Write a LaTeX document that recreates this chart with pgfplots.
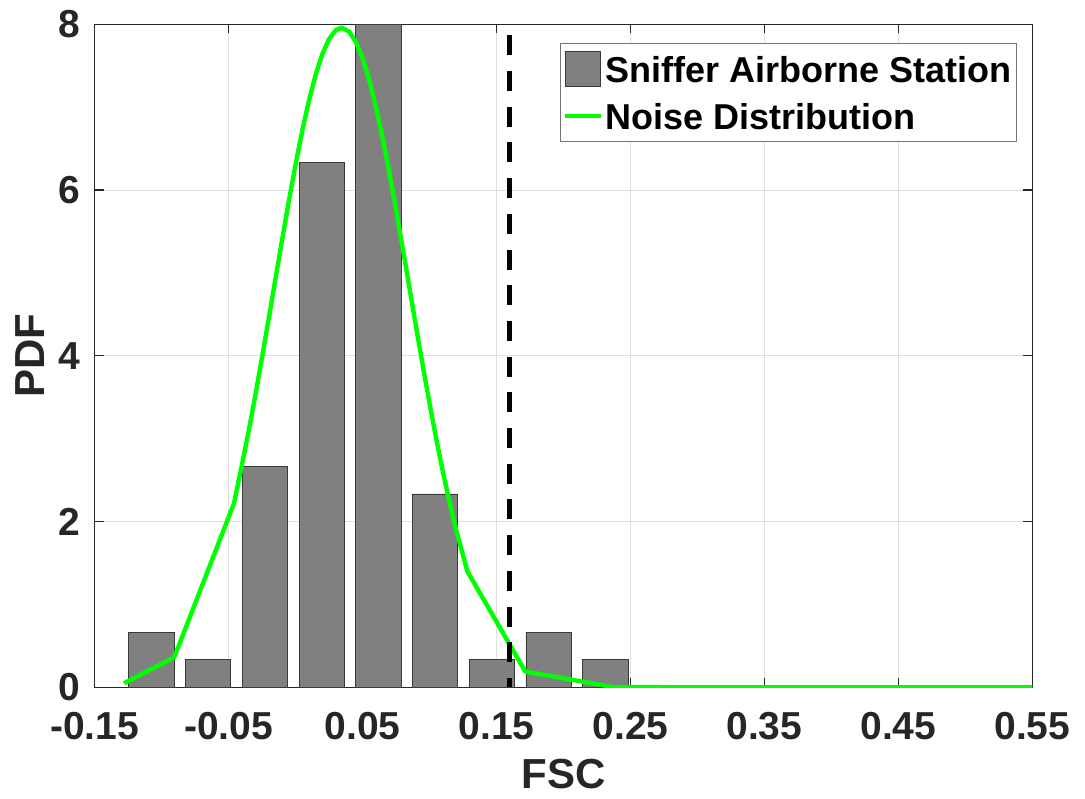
\documentclass[border=0pt]{standalone}
\usepackage{fontspec}
\setmainfont{Liberation Sans}
\usepackage{pgfplots}
\pgfplotsset{compat=1.18}
\definecolor{axgray}{HTML}{262626}
\definecolor{gridgray}{HTML}{DFDFDF}
\definecolor{bargray}{HTML}{808080}
\definecolor{edgegray}{HTML}{3A3A3A}
\definecolor{noisegreen}{HTML}{00FF00}
\begin{document}
\begin{tikzpicture}
\useasboundingbox (-47.35pt,-55.35pt) rectangle (495.15pt,343.65pt);
\begin{axis}[
  at={(0,0)}, anchor=south west,
  scale only axis, width=468.8pt, height=331.5pt,
  xmin=-0.15, xmax=0.55, ymin=0, ymax=8,
  xtick={-0.15,-0.05,0.05,0.15,0.25,0.35,0.45,0.55},
  xticklabels={-0.15,-0.05,0.05,0.15,0.25,0.35,0.45,0.55},
  ytick={0,2,4,6,8}, yticklabels={0,2,4,6,8},
  grid=major, major grid style={gridgray, line width=0.5pt},
  axis line style={axgray, line width=0.6pt},
  tick style={axgray, line width=0.6pt},
  tick align=inside, major tick length=4.5pt,
  xtick pos=both, ytick pos=both,
  ticklabel style={font=\fontsize{19.5}{23}\selectfont\bfseries, text=axgray, inner sep=0pt},
  xticklabel style={yshift=-12.2pt},
  yticklabel style={xshift=-6.85pt},
  xlabel={FSC}, ylabel={PDF},
  label style={font=\fontsize{21}{25}\selectfont\bfseries, text=axgray, inner sep=0pt},
  xlabel style={at={(axis description cs:0.5,-0.1085)}, anchor=north},
  ylabel style={at={(axis description cs:-0.053,0.5)}, anchor=south},
  legend cell align=left,
  legend style={at={(axis description cs:1,1)}, anchor=north east,
    xshift=-7.8pt, yshift=-9.2pt, draw=black!55, line width=0.5pt,
    font=\fontsize{18}{21}\selectfont\bfseries,
    inner xsep=1.5pt, inner ysep=4pt, row sep=6pt,
    nodes={inner xsep=1pt, inner ysep=2pt, text depth=0pt}},
]
\addplot[ybar, bar width=0.0339, fill=bargray, draw=edgegray, line width=0.4pt,
  legend image code/.code={\draw[fill=bargray, draw=edgegray, line width=0.4pt] (0pt,-8.75pt) rectangle (17.5pt,8.75pt);}]
  coordinates {(-0.1076,0.667) (-0.0653,0.333) (-0.0229,2.667) (0.0195,6.333)
    (0.0618,8.0) (0.1041,2.333) (0.1465,0.333) (0.1889,0.667) (0.2312,0.333)};
\addlegendentry{Sniffer Airborne Station}
\addplot[noisegreen, line width=2.2pt, line join=round,
  legend image code/.code={\draw[noisegreen, line width=2pt] (0pt,0pt) -- (18pt,0pt);}]
  coordinates {(-0.1281,0.048) (-0.0906,0.362) (-0.0460,2.22)
    (-0.040,2.689) (-0.035,3.096) (-0.030,3.530) (-0.025,3.986) (-0.020,4.456)
    (-0.015,4.933) (-0.010,5.408) (-0.005,5.871) (0.000,6.312) (0.005,6.719)
    (0.010,7.083) (0.015,7.394) (0.020,7.642) (0.025,7.823) (0.030,7.930)
    (0.0344,7.96) (0.040,7.911) (0.045,7.787) (0.050,7.589) (0.055,7.325)
    (0.060,7.000) (0.065,6.625) (0.070,6.209) (0.075,5.761) (0.080,5.295)
    (0.085,4.818) (0.090,4.342) (0.095,3.875) (0.100,3.424) (0.105,2.996)
    (0.110,2.596) (0.115,2.227) (0.120,1.892) (0.125,1.592) (0.1282,1.40)
    (0.1715,0.190) (0.2370,0.003) (0.30,0.0) (0.55,0.0)};
\addlegendentry{Noise Distribution}
\addplot[black, line width=2.3pt, dash pattern=on 10pt off 7.85pt, dash phase=12.35pt, forget plot]
  coordinates {(0.1596,8) (0.1596,0)};
\end{axis}
\end{tikzpicture}
\end{document}
